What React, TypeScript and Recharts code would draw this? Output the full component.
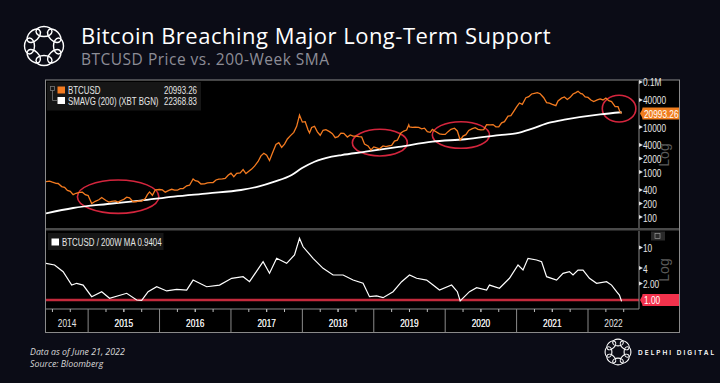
import React from 'react';
import { LineChart, Line, XAxis, YAxis, ReferenceLine, ReferenceArea } from 'recharts';

// BTCUSD weekly-ish closes (decimal years)
const priceDates = [
  2014.41, 2014.46, 2014.5, 2014.55, 2014.58, 2014.63, 2014.67, 2014.71, 2014.75, 2014.79, 2014.83, 2014.88, 2014.92, 2014.96,
  2015.0, 2015.05, 2015.1, 2015.15, 2015.19, 2015.25, 2015.29, 2015.33, 2015.38, 2015.42, 2015.46, 2015.5, 2015.54, 2015.58,
  2015.63, 2015.67, 2015.71, 2015.75, 2015.8, 2015.83, 2015.86, 2015.9, 2015.94,
  2016.0, 2016.04, 2016.08, 2016.13, 2016.17, 2016.21, 2016.25, 2016.29, 2016.33, 2016.38, 2016.42, 2016.47, 2016.5, 2016.54,
  2016.58, 2016.63, 2016.67, 2016.71, 2016.75, 2016.79, 2016.83, 2016.88, 2016.92, 2016.96,
  2017.0, 2017.04, 2017.08, 2017.13, 2017.17, 2017.21, 2017.25, 2017.29, 2017.33, 2017.38, 2017.42, 2017.46, 2017.5, 2017.54,
  2017.58, 2017.63, 2017.67, 2017.71, 2017.75, 2017.79, 2017.83, 2017.88, 2017.92, 2017.96,
  2018.0, 2018.04, 2018.08, 2018.1, 2018.13, 2018.17, 2018.21, 2018.25, 2018.29, 2018.33, 2018.38, 2018.42, 2018.46, 2018.5,
  2018.54, 2018.58, 2018.63, 2018.67, 2018.71, 2018.75, 2018.79, 2018.83, 2018.87, 2018.92, 2018.96,
  2019.0, 2019.04, 2019.08, 2019.13, 2019.17, 2019.21, 2019.25, 2019.29, 2019.33, 2019.38, 2019.42, 2019.46, 2019.49, 2019.5,
  2019.54, 2019.58, 2019.63, 2019.67, 2019.71, 2019.75, 2019.79, 2019.82, 2019.86, 2019.92, 2019.96,
  2020.0, 2020.04, 2020.08, 2020.13, 2020.17, 2020.21, 2020.25, 2020.29, 2020.33, 2020.38, 2020.42, 2020.46, 2020.5, 2020.54,
  2020.58, 2020.63, 2020.67, 2020.71, 2020.75, 2020.79, 2020.83, 2020.88, 2020.92, 2020.96,
  2021.0, 2021.04, 2021.08, 2021.13, 2021.17, 2021.21, 2021.25, 2021.29, 2021.33, 2021.38, 2021.42, 2021.46, 2021.5, 2021.55,
  2021.58, 2021.63, 2021.67, 2021.71, 2021.75, 2021.79, 2021.83, 2021.86, 2021.9, 2021.92, 2021.96,
  2022.0, 2022.04, 2022.08, 2022.13, 2022.17, 2022.21, 2022.25, 2022.29, 2022.33, 2022.38, 2022.42, 2022.45, 2022.47,
];
const priceValues = [
  640, 660, 625, 590, 585, 500, 480, 410, 390, 330, 355, 370, 375, 330,
  315, 210, 235, 255, 285, 245, 225, 235, 240, 225, 245, 260, 290, 280,
  230, 230, 240, 238, 270, 330, 380, 320, 420,
  430, 420, 375, 410, 435, 415, 415, 450, 450, 520, 535, 740, 675, 650,
  570, 575, 605, 610, 615, 700, 730, 740, 760, 890,
  990, 830, 980, 1010, 1190, 970, 1090, 1220, 1420, 1800, 2400, 2750, 2480, 1900,
  2750, 4300, 4700, 3700, 4400, 5700, 6700, 8000, 10900, 19400,
  13500, 13800, 9000, 7800, 10300, 10900, 8200, 6900, 8900, 9200, 8300, 7500, 6100, 6400,
  7700, 7600, 6300, 7000, 6600, 6600, 6450, 6350, 4400, 4000, 3250,
  3800, 3600, 3450, 4000, 3850, 4000, 4100, 5100, 5350, 7800, 8550, 9000, 11800, 10600,
  10300, 10400, 10300, 9600, 9900, 8300, 8000, 9300, 8500, 7400, 7200,
  7200, 8300, 9350, 9900, 8600, 5400, 6600, 7100, 8800, 9700, 10200, 9300, 9100, 9200,
  11800, 11700, 11900, 10600, 10600, 13000, 13800, 18400, 18800, 23500,
  29400, 36000, 33500, 47000, 49600, 57000, 59000, 61000, 57800, 47000, 36700, 35500, 33500, 31500,
  39900, 46000, 48800, 43000, 48100, 57000, 61300, 65500, 58000, 57200, 49000,
  47700, 42000, 38700, 42000, 44400, 42000, 46300, 40500, 38500, 30000, 29800, 22500, 20993.26,
];

// 200-week simple moving average
const maDates = [
  2014.41, 2014.79, 2015.27, 2015.73, 2016.2, 2016.68, 2017.14, 2017.38, 2017.61, 2017.85, 2017.99, 2018.17,
  2018.41, 2018.55, 2018.87, 2019.35, 2019.82, 2020.28, 2020.76, 2020.99, 2021.23, 2021.46, 2021.69, 2022.17, 2022.47,
];
const maValues = [
  127, 167, 205, 243, 298, 353, 419, 497, 641, 903, 1270, 1780,
  2300, 2510, 2950, 3800, 4990, 5630, 6980, 7620, 9850, 13100, 15500, 20100, 22368.83,
];

// BTCUSD / 200W MA
const ratioDates = [
  2014.41, 2014.53, 2014.65, 2014.77, 2014.84, 2014.93, 2015.05, 2015.19, 2015.3, 2015.54, 2015.68, 2015.75, 2015.84, 2015.96,
  2016.1, 2016.24, 2016.38, 2016.47, 2016.66, 2016.84, 2017.01, 2017.17, 2017.26, 2017.45, 2017.54, 2017.64, 2017.78, 2017.89,
  2017.96, 2018.01, 2018.15, 2018.29, 2018.43, 2018.57, 2018.71, 2018.85, 2018.94, 2019.04, 2019.13, 2019.27, 2019.39, 2019.5,
  2019.6, 2019.74, 2019.83, 2019.92, 2020.09, 2020.17, 2020.21, 2020.34, 2020.44, 2020.58, 2020.62, 2020.76, 2020.9, 2021.02,
  2021.09, 2021.16, 2021.28, 2021.35, 2021.42, 2021.56, 2021.65, 2021.74, 2021.79, 2021.86, 2021.93, 2022.02, 2022.12, 2022.26,
  2022.33, 2022.4, 2022.44, 2022.47,
];
const ratioValues = [
  5.16, 4.78, 3.55, 1.95, 2.11, 1.95, 1.16, 1.45, 1.08, 1.35, 1.0, 0.98, 1.45, 1.81,
  1.5, 1.61, 1.56, 2.44, 1.81, 1.95, 2.64, 2.84, 2.27, 5.54, 3.3, 6.45, 5.16, 7.5,
  15.8, 10.8, 6.45, 4.12, 3.06, 3.06, 2.44, 2.11, 1.16, 1.2, 1.11, 1.45, 2.27, 3.06,
  2.64, 2.44, 1.95, 1.56, 1.95, 1.45, 0.96, 1.45, 1.73, 1.56, 1.95, 1.69, 2.64, 4.78,
  3.82, 6.45, 5.98, 5.54, 2.84, 2.44, 3.3, 3.55, 3.06, 3.82, 3.82, 2.64, 2.11, 2.27,
  1.95, 1.45, 1.25, 0.9404,
];

const priceTicks = [100, 200, 400, 1000, 2000, 4000, 10000, 40000, 100000];
const ratioTicks = [2, 4, 10];
const quarterTicks = [
  2014.5, 2014.75, 2015, 2015.25, 2015.5, 2015.75, 2016, 2016.25, 2016.5, 2016.75, 2017, 2017.25, 2017.5, 2017.75,
  2018, 2018.25, 2018.5, 2018.75, 2019, 2019.25, 2019.5, 2019.75, 2020, 2020.25, 2020.5, 2020.75, 2021, 2021.25,
  2021.5, 2021.75, 2022, 2022.25, 2022.5,
];
const yearLabels = ['2014', '2015', '2016', '2017', '2018', '2019', '2020', '2021', '2022'];
const yearLabelDates = [2014.705, 2015.5, 2016.5, 2017.5, 2018.5, 2019.5, 2020.5, 2021.5, 2022.357];

// red annotation rings: [x1, x2, yLow, yHigh]
const rings = [
  [2014.85, 2015.99, 127, 700],
  [2018.7, 2019.47, 2390, 9350],
  [2019.82, 2020.62, 3540, 13800],
  [2022.2, 2022.67, 13600, 53300],
];

const X_DOMAIN = [2014.41, 2022.714];
const BG = '#0b0c16';
const BB_FONT = "'Liberation Sans', Arial, sans-serif";
const NARROW = 0.79; // squeeze to mimic the Bloomberg terminal font
const ORANGE = '#f47b20';
const RED = '#d4253d';

const priceData = priceDates.map((x, i) => ({ x, v: priceValues[i] }));
const maData = maDates.map((x, i) => ({ x, v: maValues[i] }));
const ratioData = ratioDates.map((x, i) => ({ x, v: ratioValues[i] }));

const fmtPrice = (v: number) => (v >= 100000 ? '0.1M' : String(v));
const fmtRatio = (v: number) => (v === 2 ? '2.00' : String(v));

// condensed text
const NText = ({ x, y, size = 10.5, fill = '#e6e6e6', anchor = 'start', children }: any) => (
  <text
    transform={`translate(${x} ${y}) scale(${NARROW} 1)`}
    fill={fill}
    fontSize={size}
    fontFamily={BB_FONT}
    textAnchor={anchor}
  >
    {children}
  </text>
);

const RightTick = ({ x, y, payload, fmt }: any) => (
  <g>
    <path d={`M${x} ${y - 3} L${x + 4} ${y - 1} L${x} ${y + 1} Z`} fill="#e0e0e0" />
    <NText x={x + 4} y={y + 3.5}>{fmt(payload.value)}</NText>
  </g>
);

const BottomTick = ({ x, y, payload }: any) => {
  const v = payload.value;
  const isYear = Math.abs(v - Math.round(v)) < 1e-6;
  const isQuarter = Math.abs(v * 4 - Math.round(v * 4)) < 1e-6;
  const li = yearLabelDates.indexOf(v);
  return (
    <g>
      {isYear && <line x1={x} x2={x} y1={y} y2={y + 23} stroke="#8a8a8a" strokeWidth={1} />}
      {!isYear && isQuarter && <line x1={x} x2={x} y1={y} y2={y + 3} stroke="#bbbbbb" strokeWidth={1} />}
      {li >= 0 && (
        <NText x={x} y={y + 18} anchor="middle">{yearLabels[li]}</NText>
      )}
    </g>
  );
};

const Badge = ({ viewBox, text, fill }: any) => {
  const x = viewBox.x + viewBox.width;
  const y = viewBox.y;
  return (
    <g>
      <path d={`M${x + 1} ${y} L${x + 4} ${y - 5.5} L${x + 4} ${y + 5.5} Z`} fill={fill} />
      <rect x={x + 3.5} y={y - 6} width={36.5} height={12} fill={fill} />
      <NText x={x + 5} y={y + 4} fill="#ffffff">{text}</NText>
    </g>
  );
};

const Ring = (p: any) => (
  <ellipse
    cx={p.x + p.width / 2}
    cy={p.y + p.height / 2}
    rx={p.width / 2}
    ry={p.height / 2}
    fill="none"
    stroke={RED}
    strokeWidth={1.6}
  />
);

const Knot = ({ cx, cy, r, rx, ry, sw }: any) => (
  <g fill="none" stroke="#ffffff" strokeWidth={sw}>
    {[0, 45, 90, 135, 180, 225, 270, 315].map((a) => (
      <ellipse key={a} cx={cx} cy={cy - r} rx={rx} ry={ry} transform={`rotate(${a} ${cx} ${cy})`} />
    ))}
  </g>
);

export default function App() {
  return (
    <div style={{ position: 'absolute', left: 0, top: 0, width: 720, height: 383, background: BG, overflow: 'hidden' }}>
      <svg width={720} height={383} style={{ position: 'absolute', left: 0, top: 0 }}>
        <Knot cx={44} cy={46} r={14.5} rx={8} ry={5} sw={1.4} />
        <text x={81} y={43.5} fill="#ffffff" fontSize={22} letterSpacing={0.5} fontFamily="'Open Sans', sans-serif">
          Bitcoin Breaching Major Long-Term Support
        </text>
        <text x={81} y={64.5} fill="#8d8d96" fontSize={15.5} letterSpacing={0.5} fontFamily="'Open Sans', sans-serif">
          BTCUSD Price vs. 200-Week SMA
        </text>
        <rect x={45.5} y={80} width={634} height={252.5} fill="#000000" stroke="#8a8a8a" strokeWidth={1} />
        <rect x={46} y={228} width={633} height={2.5} fill="#4a4a4a" />
        <text x={30} y={354.5} fill="#d8d8d8" fontSize={8.8} fontStyle="italic" fontFamily="'Open Sans', sans-serif">
          Data as of  June 21, 2022
        </text>
        <text x={30} y={367} fill="#d8d8d8" fontSize={8.8} fontStyle="italic" fontFamily="'Open Sans', sans-serif">
          Source: Bloomberg
        </text>
        <Knot cx={618} cy={352} r={9.5} rx={5.3} ry={3.4} sw={1.1} />
        <text x={638} y={354.5} fill="#ffffff" fontSize={6.5} fontWeight={600} letterSpacing={2} fontFamily="Inter, sans-serif">
          DELPHI DIGITAL
        </text>
      </svg>

      <div style={{ position: 'absolute', left: 0, top: 0 }}>
        <LineChart width={720} height={240} margin={{ top: 81, right: 40, bottom: 12, left: 46 }}>
          <XAxis type="number" dataKey="x" domain={X_DOMAIN} allowDataOverflow hide />
          <YAxis
            orientation="right"
            width={41}
            type="number"
            scale="log"
            domain={[60, 110770]}
            allowDataOverflow
            ticks={priceTicks}
            interval={0}
            tickSize={0}
            tickMargin={0}
            tickLine={false}
            axisLine={{ stroke: '#8a8a8a' }}
            tick={<RightTick fmt={fmtPrice} />}
          />
          {rings.map((r, i) => (
            <ReferenceArea key={i} x1={r[0]} x2={r[1]} y1={r[2]} y2={r[3]} ifOverflow="visible" shape={Ring} />
          ))}
          <Line data={maData} dataKey="v" type="monotone" stroke="#ffffff" strokeWidth={1.8} dot={false} isAnimationActive={false} />
          <Line data={priceData} dataKey="v" type="linear" stroke={ORANGE} strokeWidth={1.3} dot={false} isAnimationActive={false} />
          <ReferenceLine
            y={20993.26}
            stroke="none"
            ifOverflow="visible"
            label={(p: any) => <Badge viewBox={p.viewBox} text="20993.26" fill="#f07d1e" />}
          />
        </LineChart>
      </div>

      <div style={{ position: 'absolute', left: 0, top: 0 }}>
        <LineChart width={720} height={383} margin={{ top: 231, right: 40, bottom: 50, left: 46 }}>
          <XAxis
            type="number"
            dataKey="x"
            domain={X_DOMAIN}
            allowDataOverflow
            height={24}
            ticks={[...quarterTicks, ...yearLabelDates].sort((a, b) => a - b)}
            interval={0}
            tickSize={0}
            tickMargin={0}
            tickLine={false}
            axisLine={{ stroke: '#8a8a8a' }}
            tick={<BottomTick />}
          />
          <YAxis
            orientation="right"
            width={41}
            type="number"
            scale="log"
            domain={[0.6687, 21.88]}
            allowDataOverflow
            ticks={ratioTicks}
            interval={0}
            tickSize={0}
            tickMargin={0}
            tickLine={false}
            axisLine={{ stroke: '#8a8a8a' }}
            tick={<RightTick fmt={fmtRatio} />}
          />
          <ReferenceLine
            y={1}
            stroke="#c42a3c"
            strokeWidth={2.5}
            ifOverflow="visible"
            label={(p: any) => <Badge viewBox={p.viewBox} text="1.00" fill="#f2324c" />}
          />
          <Line data={ratioData} dataKey="v" type="linear" stroke="#ffffff" strokeWidth={1.2} dot={false} isAnimationActive={false} />
        </LineChart>
      </div>

      <svg width={720} height={383} style={{ position: 'absolute', left: 0, top: 0, pointerEvents: 'none' }}>
        {/* upper legend */}
        <rect x={47} y={82} width={154} height={28.5} fill="#161616" />
        <rect x={50.5} y={86.5} width={4} height={4} fill="none" stroke="#777" strokeWidth={0.8} />
        <path d="M52.5 90.5 V100.5 H57" fill="none" stroke="#777" strokeWidth={0.8} />
        <rect x={57.5} y={86.5} width={7.5} height={7} fill={ORANGE} />
        <rect x={57.5} y={97} width={7.5} height={7} fill="#ffffff" />
        <NText x={68} y={93.5} size={10}>BTCUSD</NText>
        <NText x={197} y={93.5} size={10} anchor="end">20993.26</NText>
        <NText x={68} y={104.5} size={10}>SMAVG (200) (XBT BGN)</NText>
        <NText x={197} y={104.5} size={10} anchor="end">22368.83</NText>
        {/* lower legend */}
        <rect x={48} y={233} width={115.5} height={17} fill="#161616" />
        <rect x={51.5} y={238.5} width={7.5} height={7} fill="#ffffff" />
        <NText x={62} y={245.5} size={10}>BTCUSD / 200W MA 0.9404</NText>
        {/* log captions */}
        <text x={669} y={155} fill="#5a5a5a" fontSize={14} textAnchor="middle" transform="rotate(-90 669 155)" fontFamily="'Liberation Sans', sans-serif">Log</text>
        <text x={669} y={270} fill="#5a5a5a" fontSize={14} textAnchor="middle" transform="rotate(-90 669 270)" fontFamily="'Liberation Sans', sans-serif">Log</text>
        <rect x={651} y={231.5} width={14} height={9} fill="#2a2a2a" />
        <rect x={655} y={233.5} width={5} height={5} fill="none" stroke="#999" strokeWidth={0.7} />
      </svg>
    </div>
  );
}
